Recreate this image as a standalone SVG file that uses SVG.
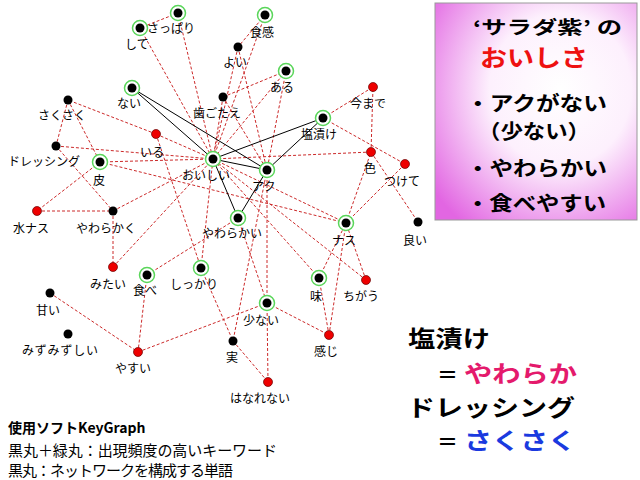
<svg xmlns="http://www.w3.org/2000/svg" width="640" height="480" viewBox="0 0 640 480">
<defs>
<radialGradient id="bg" cx="0.62" cy="0.4" r="0.78">
<stop offset="0" stop-color="#ffffff"/>
<stop offset="0.45" stop-color="#fdf0fd"/>
<stop offset="1" stop-color="#e266e2"/>
</radialGradient>
</defs>
<style>
.d{stroke:#cc2a2a;stroke-width:1;stroke-dasharray:3 2;fill:none}
.s{stroke:#000;stroke-width:1;fill:none}
.g{fill:#fff;stroke:#5ad65a;stroke-width:1.5}
.k{fill:#000}
.r{fill:#ee0000;stroke:#660000;stroke-width:0.7}
.l{font-family:"Noto Sans CJK JP","Noto Sans CJK SC",sans-serif;font-size:12px;fill:#000}
.big{font-family:"Noto Sans CJK JP","Noto Sans CJK SC",sans-serif;font-weight:bold;fill:#000}
.note{font-family:"Noto Sans CJK JP","Noto Sans CJK SC",sans-serif;fill:#000}
</style>
<rect width="640" height="480" fill="#fff"/>

<g id="connectors">
<line class="d" x1="178" y1="13" x2="140" y2="28"/>
<line class="d" x1="178" y1="13" x2="213" y2="159"/>
<line class="d" x1="140" y1="28" x2="213" y2="159"/>
<line class="d" x1="265" y1="15" x2="238" y2="47"/>
<line class="d" x1="265" y1="15" x2="213" y2="159"/>
<line class="d" x1="238" y1="47" x2="213" y2="159"/>
<line class="d" x1="238" y1="47" x2="267" y2="170"/>
<line class="d" x1="223" y1="97" x2="286" y2="71"/>
<line class="d" x1="223" y1="97" x2="213" y2="159"/>
<line class="d" x1="223" y1="97" x2="267" y2="170"/>
<line class="d" x1="286" y1="71" x2="213" y2="159"/>
<line class="d" x1="286" y1="71" x2="267" y2="170"/>
<line class="d" x1="156" y1="134" x2="68" y2="100"/>
<line class="d" x1="156" y1="134" x2="213" y2="159"/>
<line class="d" x1="156" y1="134" x2="201" y2="268"/>
<line class="d" x1="68" y1="100" x2="56" y2="146"/>
<line class="d" x1="68" y1="100" x2="100" y2="162"/>
<line class="d" x1="56" y1="146" x2="213" y2="159"/>
<line class="d" x1="56" y1="146" x2="113" y2="211"/>
<line class="d" x1="100" y1="162" x2="37" y2="211"/>
<line class="d" x1="100" y1="162" x2="213" y2="159"/>
<line class="d" x1="100" y1="162" x2="346" y2="223"/>
<line class="d" x1="37" y1="211" x2="113" y2="211"/>
<line class="d" x1="113" y1="211" x2="113" y2="267"/>
<line class="d" x1="113" y1="211" x2="213" y2="159"/>
<line class="d" x1="113" y1="267" x2="213" y2="159"/>
<line class="d" x1="147" y1="275" x2="238" y2="218"/>
<line class="d" x1="147" y1="275" x2="138" y2="352"/>
<line class="d" x1="50" y1="293" x2="138" y2="352"/>
<line class="d" x1="138" y1="352" x2="267" y2="303"/>
<line class="d" x1="201" y1="268" x2="233" y2="341"/>
<line class="d" x1="201" y1="268" x2="213" y2="159"/>
<line class="d" x1="267" y1="170" x2="233" y2="341"/>
<line class="d" x1="238" y1="218" x2="267" y2="303"/>
<line class="d" x1="267" y1="170" x2="267" y2="303"/>
<line class="d" x1="267" y1="303" x2="268" y2="382"/>
<line class="d" x1="233" y1="341" x2="268" y2="382"/>
<line class="d" x1="267" y1="303" x2="329" y2="335"/>
<line class="d" x1="329" y1="335" x2="319" y2="278"/>
<line class="d" x1="329" y1="335" x2="346" y2="223"/>
<line class="d" x1="319" y1="278" x2="346" y2="223"/>
<line class="d" x1="366" y1="280" x2="346" y2="223"/>
<line class="d" x1="319" y1="278" x2="213" y2="159"/>
<line class="d" x1="366" y1="280" x2="213" y2="159"/>
<line class="d" x1="213" y1="159" x2="346" y2="223"/>
<line class="d" x1="346" y1="223" x2="371" y2="152"/>
<line class="d" x1="346" y1="223" x2="405" y2="164"/>
<line class="d" x1="371" y1="152" x2="418" y2="222"/>
<line class="d" x1="371" y1="152" x2="373" y2="87"/>
<line class="d" x1="371" y1="152" x2="213" y2="159"/>
<line class="d" x1="323" y1="118" x2="373" y2="87"/>
<line class="d" x1="323" y1="118" x2="405" y2="164"/>
<line class="s" x1="132" y1="88" x2="213" y2="159"/>
<line class="s" x1="132" y1="88" x2="267" y2="170"/>
<line class="s" x1="323" y1="118" x2="213" y2="159"/>
<line class="s" x1="323" y1="118" x2="267" y2="170"/>
<line class="s" x1="213" y1="159" x2="267" y2="170"/>
<line class="s" x1="213" y1="159" x2="238" y2="218"/>
<line class="s" x1="267" y1="170" x2="238" y2="218"/>
</g>

<g id="n-sappari"><circle class="g" cx="178" cy="13" r="7.5"/><circle class="k" cx="178" cy="13" r="4.5"/><text class="l" x="147" y="33">さっぱり</text></g>
<g id="n-shite"><circle class="g" cx="140" cy="28" r="7.5"/><circle class="k" cx="140" cy="28" r="4.5"/><text class="l" x="125" y="49">して</text></g>
<g id="n-nai"><circle class="g" cx="132" cy="88" r="7.5"/><circle class="k" cx="132" cy="88" r="4.5"/><text class="l" x="117" y="108">ない</text></g>
<g id="n-shokkan"><circle class="g" cx="265" cy="15" r="7.5"/><circle class="k" cx="265" cy="15" r="4.5"/><text class="l" x="250" y="37">食感</text></g>
<g id="n-yoi"><circle class="k" cx="238" cy="47" r="4.5"/><text class="l" x="223" y="67">よい</text></g>
<g id="n-aru"><circle class="g" cx="286" cy="71" r="7.5"/><circle class="k" cx="286" cy="71" r="4.5"/><text class="l" x="270" y="92">ある</text></g>
<g id="n-hagotae"><circle class="k" cx="223" cy="97" r="4.5"/><text class="l" x="193" y="118">歯ごたえ</text></g>
<g id="n-imamade"><circle class="r" cx="373" cy="87" r="4.5"/><text class="l" x="350" y="108">今まで</text></g>
<g id="n-shiozuke"><circle class="g" cx="323" cy="118" r="7.5"/><circle class="k" cx="323" cy="118" r="4.5"/><text class="l" x="301" y="139">塩漬け</text></g>
<g id="n-sakusaku"><circle class="k" cx="68" cy="100" r="4.5"/><text class="l" x="38" y="120">さくさく</text></g>
<g id="n-iru"><circle class="r" cx="156" cy="134" r="4.5"/><text class="l" x="140" y="157">いる</text></g>
<g id="n-dressing"><circle class="k" cx="56" cy="146" r="4.5"/><text class="l" x="8" y="166">ドレッシング</text></g>
<g id="n-iro"><circle class="r" cx="371" cy="152" r="4.5"/><text class="l" x="364" y="173">色</text></g>
<g id="n-oishii"><circle class="g" cx="213" cy="159" r="7.5"/><circle class="k" cx="213" cy="159" r="4.5"/><text class="l" x="182" y="180">おいしい</text></g>
<g id="n-tsukete"><circle class="r" cx="405" cy="164" r="4.5"/><text class="l" x="384" y="186">つけて</text></g>
<g id="n-kawa"><circle class="g" cx="100" cy="162" r="7.5"/><circle class="k" cx="100" cy="162" r="4.5"/><text class="l" x="93" y="185">皮</text></g>
<g id="n-aku"><circle class="g" cx="267" cy="170" r="7.5"/><circle class="k" cx="267" cy="170" r="4.5"/><text class="l" x="252" y="191">アク</text></g>
<g id="n-mizunasu"><circle class="r" cx="37" cy="211" r="4.5"/><text class="l" x="13" y="233">水ナス</text></g>
<g id="n-yawarakaku"><circle class="k" cx="113" cy="211" r="4.5"/><text class="l" x="76" y="233">やわらかく</text></g>
<g id="n-yawarakai"><circle class="g" cx="238" cy="218" r="7.5"/><circle class="k" cx="238" cy="218" r="4.5"/><text class="l" x="202" y="238">やわらかい</text></g>
<g id="n-nasu"><circle class="g" cx="346" cy="223" r="7.5"/><circle class="k" cx="346" cy="223" r="4.5"/><text class="l" x="332" y="245">ナス</text></g>
<g id="n-yoi2"><circle class="k" cx="418" cy="222" r="4.5"/><text class="l" x="403" y="245">良い</text></g>
<g id="n-mitai"><circle class="r" cx="113" cy="267" r="4.5"/><text class="l" x="90" y="289">みたい</text></g>
<g id="n-tabe"><circle class="g" cx="147" cy="275" r="7.5"/><circle class="k" cx="147" cy="275" r="4.5"/><text class="l" x="133" y="295">食べ</text></g>
<g id="n-shikkari"><circle class="g" cx="201" cy="268" r="7.5"/><circle class="k" cx="201" cy="268" r="4.5"/><text class="l" x="170" y="289">しっかり</text></g>
<g id="n-aji"><circle class="g" cx="319" cy="278" r="7.5"/><circle class="k" cx="319" cy="278" r="4.5"/><text class="l" x="310" y="301">味</text></g>
<g id="n-chigau"><circle class="r" cx="366" cy="280" r="4.5"/><text class="l" x="343" y="301">ちがう</text></g>
<g id="n-amai"><circle class="k" cx="50" cy="293" r="4.5"/><text class="l" x="36" y="315">甘い</text></g>
<g id="n-sukunai"><circle class="g" cx="267" cy="303" r="7.5"/><circle class="k" cx="267" cy="303" r="4.5"/><text class="l" x="243" y="325">少ない</text></g>
<g id="n-mizumizushii"><circle class="k" cx="68" cy="334" r="4.5"/><text class="l" x="22" y="355" textLength="76">みずみずしい</text></g>
<g id="n-kanji"><circle class="r" cx="329" cy="335" r="4.5"/><text class="l" x="314" y="356">感じ</text></g>
<g id="n-mi"><circle class="k" cx="233" cy="341" r="4.5"/><text class="l" x="226" y="362">実</text></g>
<g id="n-yasui"><circle class="r" cx="138" cy="352" r="4.5"/><text class="l" x="115" y="373">やすい</text></g>
<g id="n-hanarenai"><circle class="r" cx="268" cy="382" r="4.5"/><text class="l" x="230" y="403">はなれない</text></g>

<g id="summary">
<rect x="435" y="3" width="202" height="217" fill="url(#bg)" stroke="#999" stroke-width="1"/>
<text class="big" x="473" y="34" font-size="18" textLength="149" lengthAdjust="spacingAndGlyphs">‘サラダ紫’ の</text>
<text class="big" x="480" y="66" font-size="23" textLength="108" lengthAdjust="spacingAndGlyphs" style="fill:#ee1111">おいしさ</text>
<text class="big" x="466" y="111" font-size="20" textLength="141" lengthAdjust="spacingAndGlyphs">・アクがない</text>
<text class="big" x="478" y="139" font-size="20" textLength="112" lengthAdjust="spacingAndGlyphs">（少ない）</text>
<text class="big" x="466" y="176" font-size="20" textLength="141" lengthAdjust="spacingAndGlyphs">・やわらかい</text>
<text class="big" x="466" y="211" font-size="20" textLength="140" lengthAdjust="spacingAndGlyphs">・食べやすい</text>
</g>

<g id="conclusion">
<text class="big" x="408" y="347" font-size="23" textLength="82" lengthAdjust="spacingAndGlyphs">塩漬け</text>
<text class="big" x="437" y="382" font-size="21">＝</text>
<text class="big" x="464" y="382" font-size="23" textLength="113" lengthAdjust="spacingAndGlyphs" style="fill:#e41a6c">やわらか</text>
<text class="big" x="407" y="416" font-size="23" textLength="168" lengthAdjust="spacingAndGlyphs">ドレッシング</text>
<text class="big" x="437" y="449" font-size="21">＝</text>
<text class="big" x="464" y="449" font-size="23" textLength="112" lengthAdjust="spacingAndGlyphs" style="fill:#1a3adf">さくさく</text>
</g>

<g id="legend">
<text class="note" x="8" y="433" font-size="14" font-weight="bold">使用ソフトKeyGraph</text>
<text class="note" x="8" y="456" font-size="15" textLength="269">黒丸＋緑丸：出現頻度の高いキーワード</text>
<text class="note" x="8" y="476" font-size="15" textLength="225">黒丸：ネットワークを構成する単語</text>
</g>
</svg>
